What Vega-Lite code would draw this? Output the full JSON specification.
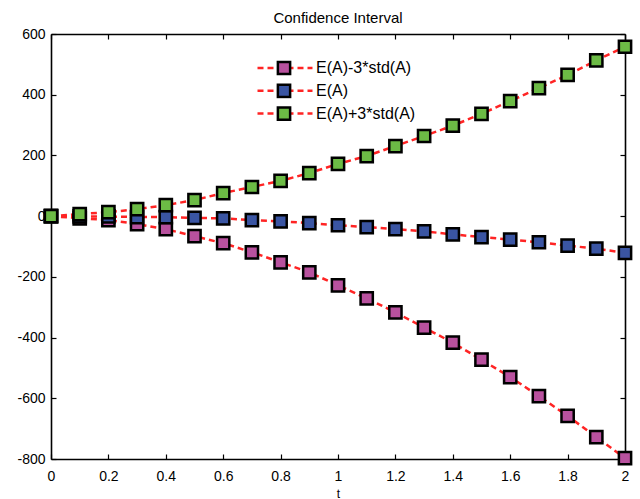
{
  "$schema": "https://vega.github.io/schema/vega-lite/v6.json",
  "width": 574,
  "height": 425,
  "autosize": {"type": "none"},
  "padding": {"left": 51, "top": 34, "right": 15, "bottom": 40},
  "background": "white",
  "config": {
    "locale": {"number": {"decimal": ".", "thousands": ",", "grouping": [3], "currency": ["$", ""], "minus": "-"}},
    "font": "Liberation Sans",
    "view": {"stroke": null},
    "axis": {
      "grid": false,
      "domainColor": "black",
      "domainWidth": 1.6,
      "tickColor": "black",
      "tickWidth": 1.2,
      "tickSize": -5,
      "labelColor": "black",
      "labelFont": "Liberation Sans",
      "labelFontSize": 14,
      "labelFlush": false,
      "labelOverlap": false,
      "titleFont": "Liberation Sans",
      "titleFontSize": 12,
      "titleFontWeight": "normal",
      "titleColor": "black"
    }
  },
  "title": {"text": "Confidence Interval", "fontSize": 15, "fontWeight": "normal", "font": "Liberation Sans", "color": "black", "offset": 1, "anchor": "middle"},
  "data": {"values": [
    {"t": 0.0, "v": 0, "s": "E(A)-3*std(A)"},
    {"t": 0.1, "v": -7, "s": "E(A)-3*std(A)"},
    {"t": 0.2, "v": -13, "s": "E(A)-3*std(A)"},
    {"t": 0.3, "v": -26, "s": "E(A)-3*std(A)"},
    {"t": 0.4, "v": -43, "s": "E(A)-3*std(A)"},
    {"t": 0.5, "v": -66, "s": "E(A)-3*std(A)"},
    {"t": 0.6, "v": -89, "s": "E(A)-3*std(A)"},
    {"t": 0.7, "v": -119, "s": "E(A)-3*std(A)"},
    {"t": 0.8, "v": -152, "s": "E(A)-3*std(A)"},
    {"t": 0.9, "v": -185, "s": "E(A)-3*std(A)"},
    {"t": 1.0, "v": -228, "s": "E(A)-3*std(A)"},
    {"t": 1.1, "v": -271, "s": "E(A)-3*std(A)"},
    {"t": 1.2, "v": -317, "s": "E(A)-3*std(A)"},
    {"t": 1.3, "v": -367, "s": "E(A)-3*std(A)"},
    {"t": 1.4, "v": -417, "s": "E(A)-3*std(A)"},
    {"t": 1.5, "v": -473, "s": "E(A)-3*std(A)"},
    {"t": 1.6, "v": -530, "s": "E(A)-3*std(A)"},
    {"t": 1.7, "v": -593, "s": "E(A)-3*std(A)"},
    {"t": 1.8, "v": -658, "s": "E(A)-3*std(A)"},
    {"t": 1.9, "v": -728, "s": "E(A)-3*std(A)"},
    {"t": 2.0, "v": -797, "s": "E(A)-3*std(A)"},
    {"t": 0.0, "v": 0, "s": "E(A)"},
    {"t": 0.1, "v": -1, "s": "E(A)"},
    {"t": 0.2, "v": -1, "s": "E(A)"},
    {"t": 0.3, "v": -3, "s": "E(A)"},
    {"t": 0.4, "v": -3, "s": "E(A)"},
    {"t": 0.5, "v": -6, "s": "E(A)"},
    {"t": 0.6, "v": -7, "s": "E(A)"},
    {"t": 0.7, "v": -13, "s": "E(A)"},
    {"t": 0.8, "v": -17, "s": "E(A)"},
    {"t": 0.9, "v": -23, "s": "E(A)"},
    {"t": 1.0, "v": -30, "s": "E(A)"},
    {"t": 1.1, "v": -36, "s": "E(A)"},
    {"t": 1.2, "v": -43, "s": "E(A)"},
    {"t": 1.3, "v": -50, "s": "E(A)"},
    {"t": 1.4, "v": -60, "s": "E(A)"},
    {"t": 1.5, "v": -69, "s": "E(A)"},
    {"t": 1.6, "v": -77, "s": "E(A)"},
    {"t": 1.7, "v": -86, "s": "E(A)"},
    {"t": 1.8, "v": -97, "s": "E(A)"},
    {"t": 1.9, "v": -107, "s": "E(A)"},
    {"t": 2.0, "v": -121, "s": "E(A)"},
    {"t": 0.0, "v": 0, "s": "E(A)+3*std(A)"},
    {"t": 0.1, "v": 7, "s": "E(A)+3*std(A)"},
    {"t": 0.2, "v": 13, "s": "E(A)+3*std(A)"},
    {"t": 0.3, "v": 23, "s": "E(A)+3*std(A)"},
    {"t": 0.4, "v": 36, "s": "E(A)+3*std(A)"},
    {"t": 0.5, "v": 53, "s": "E(A)+3*std(A)"},
    {"t": 0.6, "v": 76, "s": "E(A)+3*std(A)"},
    {"t": 0.7, "v": 96, "s": "E(A)+3*std(A)"},
    {"t": 0.8, "v": 116, "s": "E(A)+3*std(A)"},
    {"t": 0.9, "v": 142, "s": "E(A)+3*std(A)"},
    {"t": 1.0, "v": 172, "s": "E(A)+3*std(A)"},
    {"t": 1.1, "v": 198, "s": "E(A)+3*std(A)"},
    {"t": 1.2, "v": 231, "s": "E(A)+3*std(A)"},
    {"t": 1.3, "v": 264, "s": "E(A)+3*std(A)"},
    {"t": 1.4, "v": 298, "s": "E(A)+3*std(A)"},
    {"t": 1.5, "v": 337, "s": "E(A)+3*std(A)"},
    {"t": 1.6, "v": 379, "s": "E(A)+3*std(A)"},
    {"t": 1.7, "v": 422, "s": "E(A)+3*std(A)"},
    {"t": 1.8, "v": 465, "s": "E(A)+3*std(A)"},
    {"t": 1.9, "v": 513, "s": "E(A)+3*std(A)"},
    {"t": 2.0, "v": 558, "s": "E(A)+3*std(A)"}
  ]},
  "layer": [
    {
      "mark": {"type": "line", "stroke": "#ff2424", "strokeWidth": 2.5},
      "encoding": {
        "x": {"field": "t", "type": "quantitative", "scale": {"domain": [0, 2], "nice": false},
          "axis": {"orient": "bottom", "values": [0, 0.2, 0.4, 0.6, 0.8, 1, 1.2, 1.4, 1.6, 1.8, 2], "format": ".1~f", "title": "t", "labelPadding": 15, "titlePadding": 5}},
        "y": {"field": "v", "type": "quantitative", "scale": {"domain": [-800, 600], "nice": false},
          "axis": {"orient": "left", "values": [-800, -600, -400, -200, 0, 200, 400, 600], "format": "d", "title": null, "labelPadding": 11}},
        "strokeDash": {"field": "s", "type": "nominal",
          "scale": {"range": [[6, 4], [6, 4], [6, 4]]},
          "legend": {"orient": "none", "legendX": 205, "legendY": 26, "title": null, "symbolType": "stroke", "symbolSize": 3025, "symbolStrokeColor": "#ff2424", "symbolStrokeWidth": 2.5, "labelExpr": "''", "clipHeight": 16, "rowPadding": 6.8, "labelFontSize": 16}}
      }
    },
    {
      "mark": {"type": "point", "shape": "square", "filled": true, "size": 150, "stroke": "black", "strokeWidth": 2.5, "opacity": 1},
      "encoding": {
        "x": {"field": "t", "type": "quantitative",
          "axis": {"orient": "top", "values": [0, 0.2, 0.4, 0.6, 0.8, 1, 1.2, 1.4, 1.6, 1.8, 2], "labels": false, "title": null}},
        "y": {"field": "v", "type": "quantitative",
          "axis": {"orient": "right", "values": [-800, -600, -400, -200, 0, 200, 400, 600], "labels": false, "title": null}},
        "fill": {"field": "s", "type": "nominal",
          "scale": {"domain": ["E(A)-3*std(A)", "E(A)", "E(A)+3*std(A)"], "range": ["#b8519e", "#3a55a3", "#6cbb45"]},
          "legend": {"orient": "none", "legendX": 225, "legendY": 26, "title": null, "symbolType": "square", "symbolSize": 150, "symbolStrokeColor": "black", "symbolStrokeWidth": 2.5, "symbolOpacity": 1, "labelFontSize": 16, "labelColor": "black", "labelFont": "Liberation Sans", "labelOffset": 24, "clipHeight": 16, "rowPadding": 6.8}}
      }
    }
  ],
  "resolve": {"axis": {"x": "independent", "y": "independent"}}
}
